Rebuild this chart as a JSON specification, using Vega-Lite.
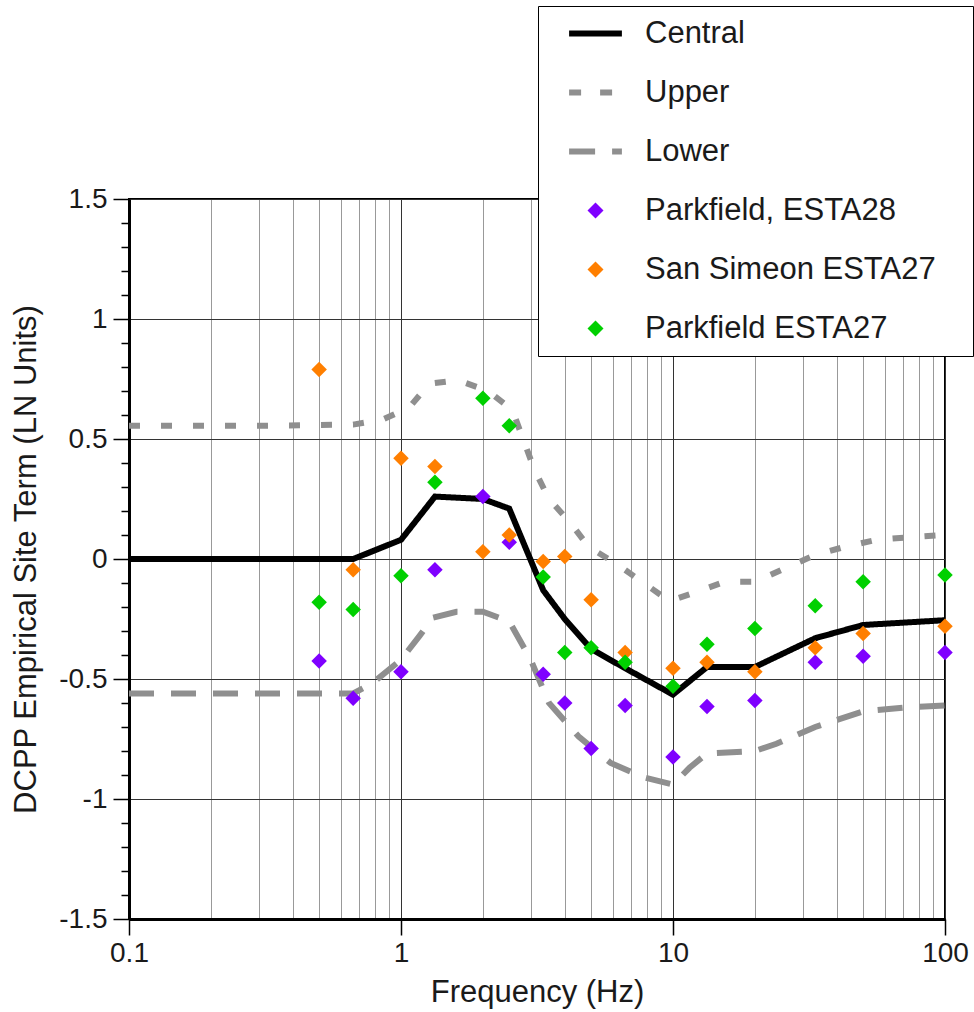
{
  "$schema": "https://vega.github.io/schema/vega-lite/v6.json",
  "width": 816,
  "height": 720,
  "autosize": {"type": "none"},
  "padding": {"left": 129, "top": 199, "right": 29, "bottom": 93},
  "background": "white",
  "config": {
    "font": "Liberation Sans",
    "view": {"stroke": "black", "strokeWidth": 2},
    "axis": {"labelColor": "#1a1a1a", "titleColor": "#1a1a1a", "titleFontWeight": "normal", "labelFont": "Liberation Sans", "titleFont": "Liberation Sans"},
    "legend": {"labelFont": "Liberation Sans", "titleFont": "Liberation Sans"}
  },
  "datasets": {
    "lines": [
      {"series": "Central", "f": 0.1, "v": 0},
      {"series": "Central", "f": 0.667, "v": 0},
      {"series": "Central", "f": 1, "v": 0.08},
      {"series": "Central", "f": 1.333, "v": 0.26},
      {"series": "Central", "f": 2, "v": 0.25},
      {"series": "Central", "f": 2.5, "v": 0.21},
      {"series": "Central", "f": 3.333, "v": -0.13},
      {"series": "Central", "f": 4, "v": -0.25},
      {"series": "Central", "f": 5, "v": -0.375},
      {"series": "Central", "f": 6.667, "v": -0.455},
      {"series": "Central", "f": 10, "v": -0.565},
      {"series": "Central", "f": 13.333, "v": -0.45},
      {"series": "Central", "f": 20, "v": -0.45},
      {"series": "Central", "f": 33.333, "v": -0.33},
      {"series": "Central", "f": 50, "v": -0.275},
      {"series": "Central", "f": 100, "v": -0.255},
      {"series": "Upper", "f": 0.1, "v": 0.555},
      {"series": "Upper", "f": 0.3, "v": 0.555},
      {"series": "Upper", "f": 0.667, "v": 0.56},
      {"series": "Upper", "f": 0.85, "v": 0.58},
      {"series": "Upper", "f": 1.07, "v": 0.63},
      {"series": "Upper", "f": 1.27, "v": 0.73},
      {"series": "Upper", "f": 1.62, "v": 0.745},
      {"series": "Upper", "f": 2.09, "v": 0.7},
      {"series": "Upper", "f": 2.57, "v": 0.62},
      {"series": "Upper", "f": 2.82, "v": 0.495},
      {"series": "Upper", "f": 3.1, "v": 0.37},
      {"series": "Upper", "f": 3.5, "v": 0.25},
      {"series": "Upper", "f": 4.2, "v": 0.15},
      {"series": "Upper", "f": 4.9, "v": 0.05},
      {"series": "Upper", "f": 6.2, "v": -0.02},
      {"series": "Upper", "f": 7.8, "v": -0.1},
      {"series": "Upper", "f": 9.7, "v": -0.175},
      {"series": "Upper", "f": 12, "v": -0.14},
      {"series": "Upper", "f": 15.5, "v": -0.095},
      {"series": "Upper", "f": 20, "v": -0.095},
      {"series": "Upper", "f": 25.7, "v": -0.04},
      {"series": "Upper", "f": 33, "v": 0.015},
      {"series": "Upper", "f": 42.6, "v": 0.05},
      {"series": "Upper", "f": 56, "v": 0.08},
      {"series": "Upper", "f": 73, "v": 0.09},
      {"series": "Upper", "f": 100, "v": 0.1},
      {"series": "Lower", "f": 0.1, "v": -0.56},
      {"series": "Lower", "f": 0.667, "v": -0.56},
      {"series": "Lower", "f": 0.78, "v": -0.52},
      {"series": "Lower", "f": 1, "v": -0.42},
      {"series": "Lower", "f": 1.17, "v": -0.32},
      {"series": "Lower", "f": 1.31, "v": -0.245},
      {"series": "Lower", "f": 1.6, "v": -0.22},
      {"series": "Lower", "f": 2, "v": -0.22},
      {"series": "Lower", "f": 2.5, "v": -0.26},
      {"series": "Lower", "f": 3, "v": -0.42},
      {"series": "Lower", "f": 3.5, "v": -0.6},
      {"series": "Lower", "f": 4.5, "v": -0.74},
      {"series": "Lower", "f": 5.9, "v": -0.85},
      {"series": "Lower", "f": 7.8, "v": -0.91},
      {"series": "Lower", "f": 10, "v": -0.94},
      {"series": "Lower", "f": 11.5, "v": -0.87},
      {"series": "Lower", "f": 13.333, "v": -0.81},
      {"series": "Lower", "f": 20, "v": -0.8},
      {"series": "Lower", "f": 24, "v": -0.77},
      {"series": "Lower", "f": 33.333, "v": -0.7},
      {"series": "Lower", "f": 50, "v": -0.635},
      {"series": "Lower", "f": 70, "v": -0.62},
      {"series": "Lower", "f": 100, "v": -0.61}
    ],
    "points": [
      {"series": "Parkfield, ESTA28", "f": 0.5, "v": -0.425},
      {"series": "Parkfield, ESTA28", "f": 0.667, "v": -0.58},
      {"series": "Parkfield, ESTA28", "f": 1, "v": -0.47},
      {"series": "Parkfield, ESTA28", "f": 1.333, "v": -0.045},
      {"series": "Parkfield, ESTA28", "f": 2, "v": 0.26},
      {"series": "Parkfield, ESTA28", "f": 2.5, "v": 0.07},
      {"series": "Parkfield, ESTA28", "f": 3.333, "v": -0.48},
      {"series": "Parkfield, ESTA28", "f": 4, "v": -0.6},
      {"series": "Parkfield, ESTA28", "f": 5, "v": -0.79},
      {"series": "Parkfield, ESTA28", "f": 6.667, "v": -0.61},
      {"series": "Parkfield, ESTA28", "f": 10, "v": -0.825},
      {"series": "Parkfield, ESTA28", "f": 13.333, "v": -0.615},
      {"series": "Parkfield, ESTA28", "f": 20, "v": -0.59},
      {"series": "Parkfield, ESTA28", "f": 33.333, "v": -0.43},
      {"series": "Parkfield, ESTA28", "f": 50, "v": -0.405},
      {"series": "Parkfield, ESTA28", "f": 100, "v": -0.39},
      {"series": "San Simeon ESTA27", "f": 0.5, "v": 0.79},
      {"series": "San Simeon ESTA27", "f": 0.667, "v": -0.045},
      {"series": "San Simeon ESTA27", "f": 1, "v": 0.42},
      {"series": "San Simeon ESTA27", "f": 1.333, "v": 0.385},
      {"series": "San Simeon ESTA27", "f": 2, "v": 0.03},
      {"series": "San Simeon ESTA27", "f": 2.5, "v": 0.1},
      {"series": "San Simeon ESTA27", "f": 3.333, "v": -0.01},
      {"series": "San Simeon ESTA27", "f": 4, "v": 0.01},
      {"series": "San Simeon ESTA27", "f": 5, "v": -0.17},
      {"series": "San Simeon ESTA27", "f": 6.667, "v": -0.39},
      {"series": "San Simeon ESTA27", "f": 10, "v": -0.455},
      {"series": "San Simeon ESTA27", "f": 13.333, "v": -0.43},
      {"series": "San Simeon ESTA27", "f": 20, "v": -0.47},
      {"series": "San Simeon ESTA27", "f": 33.333, "v": -0.37},
      {"series": "San Simeon ESTA27", "f": 50, "v": -0.31},
      {"series": "San Simeon ESTA27", "f": 100, "v": -0.28},
      {"series": "Parkfield ESTA27", "f": 0.5, "v": -0.18},
      {"series": "Parkfield ESTA27", "f": 0.667, "v": -0.21},
      {"series": "Parkfield ESTA27", "f": 1, "v": -0.07},
      {"series": "Parkfield ESTA27", "f": 1.333, "v": 0.32},
      {"series": "Parkfield ESTA27", "f": 2, "v": 0.67},
      {"series": "Parkfield ESTA27", "f": 2.5, "v": 0.555},
      {"series": "Parkfield ESTA27", "f": 3.333, "v": -0.075},
      {"series": "Parkfield ESTA27", "f": 4, "v": -0.39},
      {"series": "Parkfield ESTA27", "f": 5, "v": -0.37},
      {"series": "Parkfield ESTA27", "f": 6.667, "v": -0.43},
      {"series": "Parkfield ESTA27", "f": 10, "v": -0.53},
      {"series": "Parkfield ESTA27", "f": 13.333, "v": -0.355},
      {"series": "Parkfield ESTA27", "f": 20, "v": -0.29},
      {"series": "Parkfield ESTA27", "f": 33.333, "v": -0.195},
      {"series": "Parkfield ESTA27", "f": 50, "v": -0.095},
      {"series": "Parkfield ESTA27", "f": 100, "v": -0.067}
    ]
  },
  "encoding": {
    "x": {
      "field": "f",
      "type": "quantitative",
      "scale": {"type": "log", "domain": [0.1, 100], "nice": false},
      "axis": {
        "title": "Frequency (Hz)",
        "titleFontSize": 31,
        "titlePadding": 10,
        "labelFontSize": 28,
        "labelPadding": 4,
        "values": [0.1, 0.2, 0.3, 0.4, 0.5, 0.6, 0.7, 0.8, 0.9, 1, 2, 3, 4, 5, 6, 7, 8, 9, 10, 20, 30, 40, 50, 60, 70, 80, 90, 100],
        "labelExpr": "abs(log(datum.value)/LN10 - round(log(datum.value)/LN10)) < 1e-6 ? '' + datum.value : ''",
        "domainColor": "black",
        "domainWidth": 3,
        "tickColor": "black",
        "tickWidth": 1.5,
        "tickSize": {"condition": {"test": "abs(log(datum.value)/LN10 - round(log(datum.value)/LN10)) < 1e-6", "value": 16}, "value": 0},
        "grid": true,
        "gridWidth": 1,
        "gridColor": {"condition": {"test": "abs(log(datum.value)/LN10 - round(log(datum.value)/LN10)) < 1e-6", "value": "#333333"}, "value": "#999999"},
        "gridOpacity": 1,
        "labelOverlap": false,
        "labelFlush": false
      }
    },
    "y": {
      "field": "v",
      "type": "quantitative",
      "scale": {"domain": [-1.5, 1.5], "nice": false, "zero": false},
      "axis": {
        "title": "DCPP Empirical Site Term (LN Units)",
        "titleFontSize": 31,
        "titlePadding": 16,
        "labelFontSize": 28,
        "labelPadding": 6,
        "values": [-1.5, -1.4, -1.3, -1.2, -1.1, -1, -0.9, -0.8, -0.7, -0.6, -0.5, -0.4, -0.3, -0.2, -0.1, 0, 0.1, 0.2, 0.3, 0.4, 0.5, 0.6, 0.7, 0.8, 0.9, 1, 1.1, 1.2, 1.3, 1.4, 1.5],
        "labelExpr": "abs(datum.value*2 - round(datum.value*2)) < 1e-6 ? '' + datum.value : ''",
        "domainColor": "black",
        "domainWidth": 3,
        "tickColor": "black",
        "tickWidth": 1.5,
        "tickSize": {"condition": {"test": "abs(datum.value*2 - round(datum.value*2)) < 1e-6", "value": 16}, "value": 8},
        "grid": true,
        "gridWidth": 1,
        "gridColor": {"condition": {"test": "abs(datum.value*2 - round(datum.value*2)) < 1e-6", "value": "#333333"}, "value": "transparent"},
        "gridOpacity": 1,
        "labelOverlap": false,
        "labelFlush": false
      }
    },
    "color": {
      "field": "series",
      "type": "nominal",
      "scale": {
        "domain": ["Central", "Upper", "Lower", "Parkfield, ESTA28", "San Simeon ESTA27", "Parkfield ESTA27"],
        "range": ["#000000", "#8f8f8f", "#8f8f8f", "#7f00ff", "#ff7f00", "#00d000"]
      },
      "legend": {
        "title": " ",
        "titleOrient": "right",
        "titlePadding": 25,
        "titleFontSize": 31,
        "orient": "none",
        "legendX": 409,
        "legendY": -193,
        "fillColor": "white",
        "strokeColor": "black",
        "padding": 12,
        "rowPadding": 27,
        "labelFontSize": 31,
        "labelColor": "#1a1a1a",
        "labelLimit": 500,
        "labelOffset": 34,
        "symbolOffset": 30,
        "symbolSize": 256,
        "encode": {
          "symbols": {
            "update": {
              "shape": {"signal": "datum.index < 3 ? 'M-3.3,0H3.3' : 'diamond'"},
              "size": {"value": 256},
              "fill": {"signal": "datum.index < 3 ? 'transparent' : scale('color', datum.value)"},
              "stroke": {"signal": "datum.index < 3 ? scale('color', datum.value) : 'transparent'"},
              "strokeWidth": {"signal": "datum.index < 3 ? 6 : 0"},
              "strokeDash": {"signal": "datum.index == 1 ? [12,19] : datum.index == 2 ? [26,17] : [1,0]"},
              "opacity": {"value": 1}
            }
          }
        }
      }
    }
  },
  "layer": [
    {
      "data": {"name": "lines"},
      "mark": {"type": "line", "strokeWidth": 6, "clip": true},
      "encoding": {
        "strokeDash": {
          "field": "series",
          "type": "nominal",
          "scale": {"domain": ["Central", "Upper", "Lower"], "range": [[1, 0], [11, 21], [25, 17]]},
          "legend": null
        }
      }
    },
    {
      "data": {"name": "points"},
      "mark": {"type": "point", "shape": "diamond", "filled": true, "size": 240, "opacity": 1}
    }
  ]
}
